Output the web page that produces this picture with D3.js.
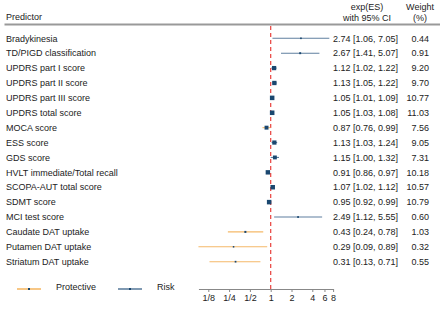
<!DOCTYPE html>
<html>
<head>
<meta charset="utf-8">
<script src="https://cdn.jsdelivr.net/npm/d3@7"></script>
<style>
  body { margin: 0; background: #fff; }
  text { font-family: "Liberation Sans", Arial, sans-serif; font-size: 9px; fill: #222; }
</style>
</head>
<body>
<svg id="forest"></svg>
<script>
// Predictors and their effect sizes
let predictors = ["Bradykinesia", "TD/PIGD classification", "UPDRS part I score", "UPDRS part II score",
  "UPDRS part III score", "UPDRS total score", "MOCA score", "ESS score", "GDS score",
  "HVLT immediate/Total recall", "SCOPA-AUT total score", "SDMT score", "MCI test score",
  "Caudate DAT uptake", "Putamen DAT uptake", "Striatum DAT uptake"];
let es = [2.74, 2.67, 1.12, 1.13, 1.05, 1.05, 0.87, 1.13, 1.15, 0.91, 1.07, 0.95, 2.49, 0.43, 0.29, 0.31];
let lower = [1.06, 1.41, 1.02, 1.05, 1.01, 1.03, 0.76, 1.03, 1.00, 0.86, 1.02, 0.92, 1.12, 0.24, 0.09, 0.13];
let upper = [7.05, 5.07, 1.22, 1.22, 1.09, 1.08, 0.99, 1.24, 1.32, 0.97, 1.12, 0.99, 5.55, 0.78, 0.89, 0.71];
let weights = [0.44, 0.91, 9.20, 9.70, 10.77, 11.03, 7.56, 9.05, 7.31, 10.18, 10.57, 10.79, 0.60, 1.03, 0.32, 0.55];
let tickValues = [0.125, 0.25, 0.5, 1, 2, 4, 6, 8];
let tickLabels = ["1/8", "1/4", "1/2", "1", "2", "4", "6", "8"];

let data = predictors.map(function(p, i) {
  return {name: p, es: es[i], lo: lower[i], hi: upper[i], w: weights[i]};
});

let width = 440, height = 311;
let svg = d3.select("#forest").attr("width", width).attr("height", height);

let colRisk = "#5f7f9f", colProt = "#f5b968", colMarker = "#1a476f";

// log2 scale, about 20.8px per doubling, 1 at x=270.7
let unit = 20.8, x1 = 270.7;
let xScale = d3.scaleLog().base(2)
  .domain([0.09, 8])
  .range([x1 + unit * Math.log2(0.09), x1 + unit * 3]);

let yScale = d3.scalePoint()
  .domain(predictors)
  .range([38.3, 261.7]);

let axisY = 289;

// Header
svg.append("text").attr("x", 6).attr("y", 19.5).text("Predictor");
svg.append("text").attr("x", 367).attr("y", 9.5).attr("text-anchor", "middle").text("exp(ES)");
svg.append("text").attr("x", 367).attr("y", 21).attr("text-anchor", "middle").text("with 95% CI");
svg.append("text").attr("x", 420).attr("y", 9.5).attr("text-anchor", "middle").text("Weight");
svg.append("text").attr("x", 420).attr("y", 21).attr("text-anchor", "middle").text("(%)");
svg.append("line").attr("x1", 4.5).attr("x2", 440).attr("y1", 24.5).attr("y2", 24.5)
  .attr("stroke", "#999").attr("stroke-width", 2);

// Reference line at 1
svg.append("line")
  .attr("x1", xScale(1)).attr("x2", xScale(1))
  .attr("y1", 26).attr("y2", axisY)
  .attr("stroke", "#e8413c").attr("stroke-width", 1.2)
  .attr("stroke-dasharray", "4,3");

// Confidence intervals
svg.selectAll(".ci").data(data).enter().append("line")
  .attr("class", "ci")
  .attr("x1", function(d) { return xScale(d.lo); })
  .attr("x2", function(d) { return xScale(d.hi); })
  .attr("y1", function(d) { return yScale(d.name); })
  .attr("y2", function(d) { return yScale(d.name); })
  .attr("stroke", function(d) { return d.es < 1 ? colProt : colRisk; })
  .attr("stroke-width", 1.1);

// Markers sized by weight
function side(w) { return 1.1 * Math.sqrt(w) + 0.9; }
svg.selectAll(".pt").data(data).enter().append("rect")
  .attr("class", "pt")
  .attr("x", function(d) { return xScale(d.es) - side(d.w) / 2; })
  .attr("y", function(d) { return yScale(d.name) - side(d.w) / 2; })
  .attr("width", function(d) { return side(d.w); })
  .attr("height", function(d) { return side(d.w); })
  .attr("fill", colMarker);

// Labels
svg.selectAll(".lab").data(data).enter().append("text")
  .attr("x", 6).attr("y", function(d) { return yScale(d.name) + 3.2; })
  .text(function(d) { return d.name; });

svg.selectAll(".val").data(data).enter().append("text")
  .attr("x", 333).attr("y", function(d) { return yScale(d.name) + 3.2; })
  .text(function(d) { return d.es.toFixed(2) + " [" + d.lo.toFixed(2) + ", " + d.hi.toFixed(2) + "]"; });

svg.selectAll(".wt").data(data).enter().append("text")
  .attr("x", 429).attr("y", function(d) { return yScale(d.name) + 3.2; })
  .attr("text-anchor", "end")
  .text(function(d) { return d.w.toFixed(2); });

// x axis
let axis = svg.append("g")
  .attr("transform", `translate(0, ${axisY})`)
  .call(d3.axisBottom(xScale).tickValues(tickValues).tickSize(3).tickSizeOuter(0)
    .tickFormat(function(d, i) { return tickLabels[i]; }));
axis.select(".domain").attr("stroke", "#888");
axis.selectAll(".tick line").attr("stroke", "#888");
axis.selectAll("text").style("font-size", "9px").style("fill", "#222")
  .style("font-family", "Liberation Sans, Arial, sans-serif");

// Legend
let legend = [
  {label: "Protective", col: colProt, x: 17, tx: 56},
  {label: "Risk", col: colRisk, x: 118, tx: 157}
];
legend.forEach(function(l) {
  svg.append("line").attr("x1", l.x).attr("x2", l.x + 24)
    .attr("y1", axisY).attr("y2", axisY)
    .attr("stroke", l.col).attr("stroke-width", 1.6);
  svg.append("rect").attr("x", l.x + 11).attr("y", axisY - 1).attr("width", 2).attr("height", 2)
    .attr("fill", colMarker);
  svg.append("text").attr("x", l.tx).attr("y", axisY + 1).text(l.label);
});
</script>
</body>
</html>
